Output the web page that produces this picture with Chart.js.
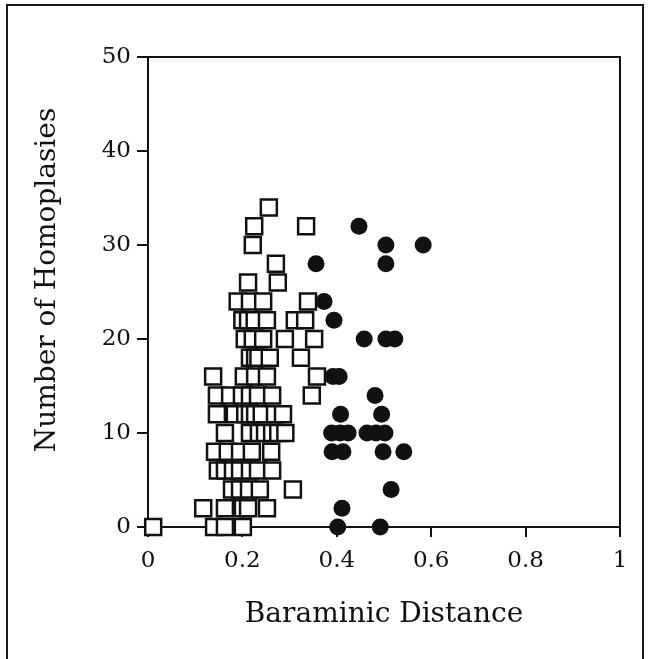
<!DOCTYPE html>
<html>
<head>
<meta charset="utf-8">
<script src="https://cdn.jsdelivr.net/npm/chart.js@4/dist/chart.umd.min.js"></script>
<style>
  html, body { margin: 0; padding: 0; background: #fff; overflow: hidden; }
  #frame { position: absolute; left: 6px; top: 4px; width: 638px; height: 700px; border: 2px solid #1a1a1a; box-sizing: border-box; }
  #wrap { position: absolute; left: 0; top: 0; width: 650px; height: 659px; }
</style>
</head>
<body>
<div id="frame"></div>
<div id="wrap"><canvas id="c" width="650" height="659"></canvas></div>
<script>
// Open squares: Baraminic Distance (x) and Number of Homoplasies (y)
const squareX = [
  0.256,
  0.225, 0.335,
  0.222,
  0.271,
  0.212, 0.275,
  0.190, 0.216, 0.244, 0.339,
  0.200, 0.212, 0.226, 0.252, 0.311, 0.333,
  0.205, 0.222, 0.244, 0.290, 0.352,
  0.216, 0.227, 0.234, 0.258, 0.324,
  0.138, 0.203, 0.227, 0.252, 0.358,
  0.146, 0.174, 0.199, 0.216, 0.233, 0.263, 0.347,
  0.146, 0.184, 0.206, 0.216, 0.227, 0.241, 0.269, 0.286,
  0.163, 0.216, 0.235, 0.248, 0.263, 0.276, 0.291,
  0.142, 0.169, 0.195, 0.220, 0.261,
  0.148, 0.163, 0.180, 0.195, 0.216, 0.233, 0.263,
  0.178, 0.195, 0.214, 0.237, 0.307,
  0.117, 0.163, 0.201, 0.212, 0.252,
  0.011, 0.140, 0.163, 0.201
];
const squareY = [
  34,
  32, 32,
  30,
  28,
  26, 26,
  24, 24, 24, 24,
  22, 22, 22, 22, 22, 22,
  20, 20, 20, 20, 20,
  18, 18, 18, 18, 18,
  16, 16, 16, 16, 16,
  14, 14, 14, 14, 14, 14, 14,
  12, 12, 12, 12, 12, 12, 12, 12,
  10, 10, 10, 10, 10, 10, 10,
  8, 8, 8, 8, 8,
  6, 6, 6, 6, 6, 6, 6,
  4, 4, 4, 4, 4,
  2, 2, 2, 2, 2,
  0, 0, 0, 0
];
// Filled circles
const circleX = [
  0.447,
  0.504, 0.583,
  0.356, 0.504,
  0.373,
  0.394,
  0.458, 0.504, 0.523,
  0.392, 0.405,
  0.481,
  0.408, 0.495,
  0.389, 0.407, 0.424, 0.464, 0.483, 0.502,
  0.390, 0.413, 0.498, 0.542,
  0.515,
  0.411,
  0.402, 0.492
];
const circleY = [
  32,
  30, 30,
  28, 28,
  24,
  22,
  20, 20, 20,
  16, 16,
  14,
  12, 12,
  10, 10, 10, 10, 10, 10,
  8, 8, 8, 8,
  4,
  2,
  0, 0
];
const xTickLabels = ['0', '0.2', '0.4', '0.6', '0.8', '1'];
const yTickLabels = ['0', '10', '20', '30', '40', '50'];
const xTitle = 'Baraminic Distance';
const yTitle = 'Number of Homoplasies';

const toPoints = (xs, ys) => xs.map((x, i) => ({ x: x, y: ys[i] }));
const INK = '#111';
const FONT = '"DejaVu Serif", "Liberation Serif", serif';

const boxPlugin = {
  id: 'box',
  beforeDatasetsDraw(chart) {
    const a = chart.chartArea, ctx = chart.ctx;
    ctx.save();
    ctx.strokeStyle = INK;
    ctx.lineWidth = 2;
    ctx.strokeRect(a.left, a.top, a.right - a.left, a.bottom - a.top);
    ctx.restore();
  },
  afterDraw(chart) {
    // y-axis title, set slightly above the axis centre as in the original
    const ctx = chart.ctx, a = chart.chartArea;
    ctx.save();
    ctx.fillStyle = INK;
    ctx.font = '28px ' + FONT;
    ctx.textAlign = 'center';
    ctx.textBaseline = 'middle';
    ctx.translate(48, (a.top + a.bottom) / 2 - 12);
    ctx.rotate(-Math.PI / 2);
    ctx.fillText(yTitle, 0, 0);
    ctx.restore();
  }
};

new Chart(document.getElementById('c'), {
  type: 'scatter',
  data: {
    datasets: [
      {
        label: 'circles',
        data: toPoints(circleX, circleY),
        pointStyle: 'circle',
        pointRadius: 8.5,
        pointHoverRadius: 8.5,
        backgroundColor: INK,
        borderColor: INK,
        borderWidth: 0,
        clip: false
      },
      {
        label: 'squares',
        data: toPoints(squareX, squareY),
        pointStyle: 'rect',
        pointRadius: 11.3,
        pointHoverRadius: 11.3,
        backgroundColor: '#fff',
        borderColor: INK,
        borderWidth: 2.5,
        clip: false
      }
    ]
  },
  options: {
    responsive: false,
    animation: false,
    devicePixelRatio: 1,
    layout: { padding: { left: 31, top: 57, right: 30, bottom: 27 } },
    plugins: { legend: { display: false }, tooltip: { enabled: false } },
    scales: {
      x: {
        type: 'linear',
        min: 0, max: 1,
        afterFit(s) { s.height = 105; },
        afterBuildTicks(s) { s.ticks = xTickLabels.map(t => ({ value: parseFloat(t) })); },
        ticks: {
          callback: (v, i) => xTickLabels[i],
          font: { family: FONT, size: 23 },
          color: INK,
          padding: 10,
          maxRotation: 0,
          autoSkip: false
        },
        grid: { display: true, drawOnChartArea: false, drawTicks: true, tickLength: 10, color: INK, lineWidth: 2 },
        border: { display: true, color: INK, width: 2 },
        title: { display: true, text: xTitle, font: { family: FONT, size: 28 }, color: INK, padding: 0 }
      },
      y: {
        type: 'linear',
        min: 0, max: 50,
        afterFit(s) { s.width = 117; },
        afterBuildTicks(s) { s.ticks = yTickLabels.map(t => ({ value: parseFloat(t) })); },
        ticks: {
          callback: (v, i) => yTickLabels[i],
          font: { family: FONT, size: 23 },
          color: INK,
          padding: 6,
          autoSkip: false
        },
        grid: { display: true, drawOnChartArea: false, drawTicks: true, tickLength: 11, color: INK, lineWidth: 2 },
        border: { display: true, color: INK, width: 2 },
        title: { display: false }
      }
    }
  },
  plugins: [boxPlugin]
});
</script>
</body>
</html>
